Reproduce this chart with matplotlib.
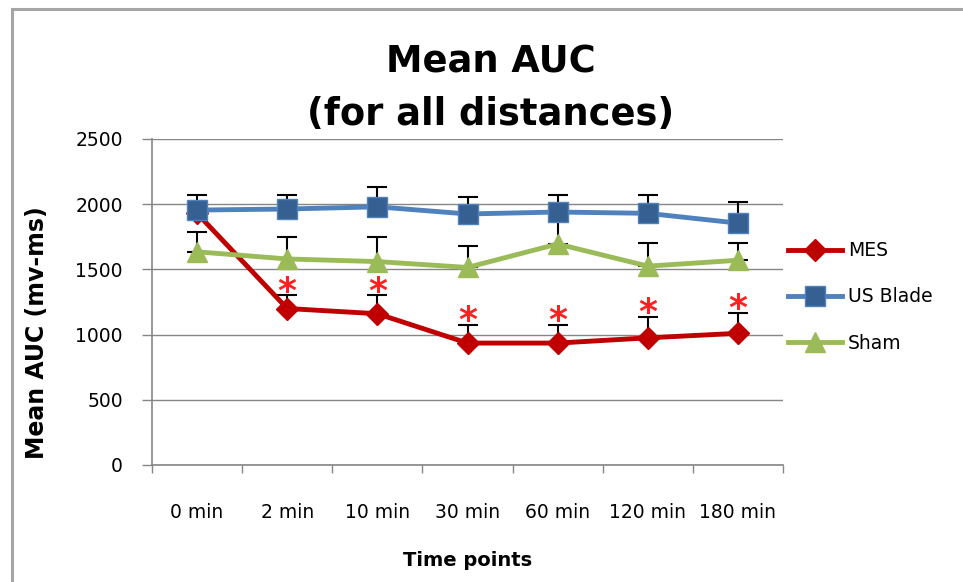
import matplotlib
matplotlib.use("Agg")
import matplotlib.pyplot as plt
from matplotlib.lines import Line2D

# Time points and series means / upper error (SD) values
time_points = ["0 min", "2 min", "10 min", "30 min", "60 min", "120 min", "180 min"]
mes_mean = [1930, 1200, 1160, 935, 935, 975, 1010]
mes_err = [0, 100, 140, 140, 140, 160, 155]
blade_mean = [1955, 1963, 1980, 1925, 1940, 1930, 1855]
blade_err = [115, 107, 152, 130, 130, 140, 162]
sham_mean = [1635, 1580, 1560, 1515, 1695, 1525, 1570]
sham_err = [152, 168, 188, 165, 200, 175, 130]
# Significance markers (index of time point)
signif_idx = [1, 2, 3, 4, 5, 6]

W, H = 963, 582
fig = plt.figure(figsize=(W / 100, H / 100), dpi=100)
fig.patch.set_facecolor("white")

# plot area in pixel coordinates
x0, x1, ytop, ybot = 152, 783, 139, 465
ax = fig.add_axes([x0 / W, 1 - ybot / H, (x1 - x0) / W, (ybot - ytop) / H])

xs = list(range(len(time_points)))
red = "#C00000"
blue_line = "#4F81BD"
blue_mark = "#376092"
green = "#9BBB59"

# error bars (upper only), beneath the series
for mean, err in [(mes_mean, mes_err), (blade_mean, blade_err), (sham_mean, sham_err)]:
    ax.errorbar(xs, mean, yerr=[[0] * len(err), err], fmt="none", ecolor="black",
                elinewidth=1.5, capsize=7, capthick=1.5, zorder=2)

ax.plot(xs, mes_mean, color=red, lw=3.5, marker="D", ms=11, mfc=red, mec=red,
        zorder=3, label="MES")
ax.plot(xs, blade_mean, color=blue_line, lw=3.5, marker="s", ms=14, mfc=blue_mark,
        mec=blue_line, mew=1, zorder=5, label="US Blade")
ax.plot(xs, sham_mean, color=green, lw=3.5, marker="^", ms=14, mfc=green, mec=green,
        zorder=4, label="Sham")

for i in signif_idx:
    ax.annotate("*", xy=(xs[i], mes_mean[i] + mes_err[i]), xytext=(0, -4.5),
                textcoords="offset points", ha="center", va="baseline",
                fontsize=26, fontweight="bold", color="#FF2020", zorder=6)

ax.set_xlim(-0.5, len(time_points) - 0.5)
ax.set_ylim(0, 2500)
ax.set_yticks(range(0, 2501, 500))
ax.set_xticks([i - 0.5 for i in range(len(time_points) + 1)])
ax.set_xticklabels([])
ax.set_xticks(xs, minor=True)
ax.set_xticklabels(time_points, minor=True)
ax.tick_params(axis="x", which="minor", length=0, pad=27, labelsize=13.5)
ax.tick_params(axis="x", which="major", length=6, width=1, color="#868686", direction="out")
ax.tick_params(axis="y", length=7, width=1, color="#868686", pad=14, labelsize=13.5)

ax.grid(axis="y", color="#868686", lw=1)
ax.set_axisbelow(True)
for s in ["top", "right"]:
    ax.spines[s].set_visible(False)
for s in ["left", "bottom"]:
    ax.spines[s].set_color("#868686")
    ax.spines[s].set_linewidth(1.2)

fig.text(37 / W, 1 - 333 / H, "Mean AUC (mv-ms)", rotation=90, ha="center", va="center",
         fontsize=17, fontweight="bold")
fig.text(468 / W, 1 - 561 / H, "Time points", ha="center", va="center",
         fontsize=14, fontweight="bold")
fig.text(491 / W, 1 - 88 / H, "Mean AUC\n(for all distances)", ha="center", va="center",
         fontsize=26.5, fontweight="bold", linespacing=1.55)

leg = ax.legend(loc="center left", bbox_to_anchor=(788 / W, 1 - 297 / H),
                bbox_transform=fig.transFigure, frameon=False, fontsize=13.5,
                handlelength=2.9, handletextpad=0.3, labelspacing=1.45,
                borderaxespad=0, borderpad=0)

# chart border
fig.add_artist(Line2D([12 / W, 1], [1 - 9 / H, 1 - 9 / H], color="#A6A6A6", lw=2.2,
                      transform=fig.transFigure))
fig.add_artist(Line2D([12 / W, 12 / W], [0, 1 - 9 / H], color="#A6A6A6", lw=2.2,
                      transform=fig.transFigure))

fig.savefig("out.png", dpi=100)
